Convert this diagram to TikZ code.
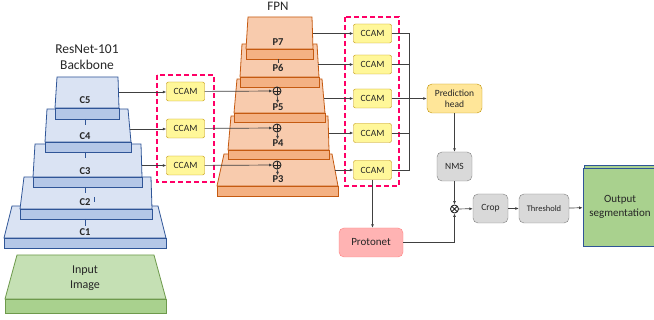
\documentclass[tikz,border=0pt]{standalone}
\usepackage{fontspec}
\setmainfont{Carlito}
\usetikzlibrary{arrows.meta,positioning}

\definecolor{bbfill}{HTML}{DAE3F3}
\definecolor{bbbar}{HTML}{B4C7E7}
\definecolor{bbline}{HTML}{2F5597}
\definecolor{fpnfill}{HTML}{F8CBAD}
\definecolor{fpnbar}{HTML}{F4B183}
\definecolor{fpnline}{HTML}{C55A11}
\definecolor{inpfill}{HTML}{C5E0B4}
\definecolor{inpbar}{HTML}{A9D18E}
\definecolor{inpline}{HTML}{6E9A4C}
\definecolor{ccamfill}{HTML}{FFF799}
\definecolor{ccamline}{HTML}{BF9000}
\definecolor{predfill}{HTML}{FFE699}
\definecolor{greyfill}{HTML}{D9D9D9}
\definecolor{greyline}{HTML}{7F7F7F}
\definecolor{protofill}{HTML}{FFB3B3}
\definecolor{protoline}{HTML}{FF8080}
\definecolor{dashpink}{HTML}{FF0066}

\begin{document}
\begin{tikzpicture}[x=1pt, y=-1pt, >={Latex[length=3.5pt,width=3pt]},
    bblvl/.style={draw=bbline, fill=bbfill, line width=0.8pt},
    bbbase/.style={draw=bbline, fill=bbbar, line width=0.8pt},
    fpnlvl/.style={draw=fpnline, fill=fpnfill, line width=0.8pt},
    fpnbase/.style={draw=fpnline, fill=fpnbar, line width=0.8pt},
    lvllabel/.style={font=\bfseries\fontsize{10.5}{12}\selectfont, text=black!85, inner sep=0pt},
    ccam/.style={draw=ccamline, fill=ccamfill, rounded corners=2pt, minimum width=38pt,
                 minimum height=19pt, inner sep=0pt, text=black!85, font=\fontsize{9.5}{10}\selectfont},
    greybox/.style={draw=greyline, fill=greyfill, rounded corners=5pt, minimum height=29pt,
                    inner sep=0pt, text=black!85, font=\fontsize{9.5}{10}\selectfont},
    plusop/.style={circle, draw=black!85, line width=0.9pt, minimum size=8pt, inner sep=0pt,
                   path picture={\draw[black!85, line width=0.9pt]
                       (path picture bounding box.north) -- (path picture bounding box.south)
                       (path picture bounding box.west) -- (path picture bounding box.east);}},
    timesop/.style={circle, draw=black!85, line width=0.9pt, minimum size=8pt, inner sep=0pt,
                   path picture={\draw[black!85, line width=0.9pt]
                       (path picture bounding box.north west) -- (path picture bounding box.south east)
                       (path picture bounding box.south west) -- (path picture bounding box.north east);}},
    conn/.style={draw=black!75, line width=0.7pt},
    groupbox/.style={draw=dashpink, line width=1.2pt, dash pattern=on 5pt off 3pt}]

    \useasboundingbox (0,0) rectangle (654,320);

    % titles
    \node[align=center, font=\fontsize{13.5}{16}\selectfont, text=black!85] (bbtitle) at (87,57) {ResNet-101\\Backbone};
    \node[font=\fontsize{13}{15}\selectfont, text=black!85] (fpntitle) at (278,6) {FPN};

    % backbone levels
    \draw[bblvl] (12,206) -- (158,206) -- (166,238) -- (4,238) -- cycle;
    \draw[bbbase] (4,238) rectangle (166,248);
    \draw[bblvl] (24,177) -- (151,177) -- (152,209) -- (20,209) -- cycle;
    \draw[bbbase] (20,209) rectangle (152,219);
    \draw[bblvl] (35,144) -- (141,144) -- (142,177) -- (33,177) -- cycle;
    \draw[bbbase] (33,177) rectangle (142,187);
    \draw[bblvl] (47,109) -- (128,109) -- (131,142) -- (45,142) -- cycle;
    \draw[bbbase] (45,142) rectangle (131,152);
    \draw[bblvl] (57,77) -- (118,77) -- (119,108) -- (55,108) -- cycle;
    \draw[bbbase] (55,108) rectangle (119,119);
    \draw[bbline, line width=0.8pt] (85,119) -- (85,125) (85,152) -- (85,158)
        (85,187) -- (85,193) (85,219) -- (85,226) (94,197) -- (94,202);

    \node[lvllabel] (c1) at (85,232) {C1};
    \node[lvllabel] (c2) at (85,202) {C2};
    \node[lvllabel] (c3) at (85,171) {C3};
    \node[lvllabel] (c4) at (85,136) {C4};
    \node[lvllabel] (c5) at (85,100) {C5};

    \coordinate (c5e) at (118.5,92);
    \coordinate (c4e) at (129.5,129);
    \coordinate (c3e) at (141.5,165.5);

    % input image
    \draw[draw=inpline, fill=inpfill, line width=0.8pt] (17,255) -- (154,255) -- (166,299) -- (5,299) -- cycle;
    \draw[draw=inpline, fill=inpbar, line width=0.8pt] (5,299) rectangle (166,313);
    \node[align=center, font=\fontsize{12}{15}\selectfont, text=black!85] (inp) at (85,278.5) {Input\\Image};

    % FPN levels
    \draw[fpnlvl] (224,154) -- (332,154) -- (338,186) -- (217,186) -- cycle;
    \draw[fpnbase] (217,186) rectangle (338,196);
    \draw[fpnlvl] (231,116) -- (328,116) -- (329,150) -- (228,150) -- cycle;
    \draw[fpnbase] (228,150) rectangle (329,159);
    \draw[fpnlvl] (237,79) -- (322,79) -- (325,113) -- (234,113) -- cycle;
    \draw[fpnbase] (234,113) rectangle (325,122);
    \draw[fpnlvl] (242,44) -- (317,44) -- (319,77) -- (240,77) -- cycle;
    \draw[fpnbase] (240,77) rectangle (319,87);
    \draw[fpnlvl] (248,17) -- (312,17) -- (313,49) -- (246,49) -- cycle;
    \draw[fpnbase] (246,49) rectangle (313,59);
    \draw[black!75, line width=0.7pt] (278,59) -- (278,63);

    \node[lvllabel] (p3) at (278,179) {P3};
    \node[lvllabel] (p4) at (278,143) {P4};
    \node[lvllabel] (p5) at (278,107) {P5};
    \node[lvllabel] (p6) at (278,68) {P6};
    \node[lvllabel] (p7) at (278,42) {P7};

    \coordinate (p7e) at (313,33.5);
    \coordinate (p6e) at (318,64.5);
    \coordinate (p5e) at (324,98.5);
    \coordinate (p4e) at (328.5,133);
    \coordinate (p3e) at (335,170);

    \node[plusop] (sum5) at (277,91) {};
    \node[plusop] (sum4) at (277,128) {};
    \node[plusop] (sum3) at (277,165) {};

    % left CCAM group
    \draw[groupbox] (157,75) rectangle (214,182);
    \node[ccam] (ccamL1) at (185.5,91.5) {CCAM};
    \node[ccam] (ccamL2) at (185.5,128.5) {CCAM};
    \node[ccam] (ccamL3) at (185.5,165.5) {CCAM};

    % right CCAM group
    \draw[groupbox] (345,17) rectangle (399,186);
    \node[ccam] (ccamR1) at (372.5,33.5) {CCAM};
    \node[ccam] (ccamR2) at (372.5,64.5) {CCAM};
    \node[ccam] (ccamR3) at (372.5,98.5) {CCAM};
    \node[ccam] (ccamR4) at (372.5,133) {CCAM};
    \node[ccam] (ccamR5) at (372.5,170) {CCAM};
    \coordinate (bus) at (409,98.5);

    % heads
    \node[draw=ccamline, fill=predfill, rounded corners=5pt, minimum width=55pt, minimum height=29pt,
          inner sep=0pt, align=center, text=black!85, font=\fontsize{9.5}{11.5}\selectfont]
          (pred) at (454.5,98.5) {Prediction\\head};
    \node[greybox, minimum width=35pt] (nms) at (454.5,166.5) {NMS};
    \node[timesop] (prod) at (454.5,209) {};
    \node[greybox, minimum width=35pt] (crop) at (490.5,208.5) {Crop};
    \node[greybox, minimum width=50pt, font=\fontsize{8.5}{10}\selectfont] (thr) at (544,208.5) {Threshold};
    \node[draw=protoline, fill=protofill, rounded corners=5pt, minimum width=64pt, minimum height=29pt,
          inner sep=0pt, text=black!85, font=\fontsize{11}{13}\selectfont] (proto) at (371,242.5) {Protonet};

    \draw[draw=bbline, fill=inpbar, line width=0.8pt] (584.5,165.5) rectangle (660,244);
    \node[draw=bbline, fill=inpbar, line width=0.8pt, minimum width=74pt, minimum height=78pt,
          inner sep=0pt, align=center, text=black!85, font=\fontsize{11}{14}\selectfont]
          (out) at (620,207) {Output\\segmentation};

    % connectors
    \draw[conn, ->] (c5e) -- (ccamL1.west |- c5e);
    \draw[conn, ->] (c4e) -- (ccamL2.west |- c4e);
    \draw[conn, ->] (c3e) -- (ccamL3.west |- c3e);
    \draw[conn, ->] (ccamL1) -- (sum5);
    \draw[conn, ->] (ccamL2) -- (sum4);
    \draw[conn, ->] (ccamL3) -- (sum3);
    \draw[conn, ->] (sum5) -- (p5);
    \draw[conn, ->] (sum4) -- (p4);
    \draw[conn, ->] (sum3) -- (p3);

    \draw[conn, ->] (p7e) -- (ccamR1);
    \draw[conn, ->] (p6e) -- (ccamR2);
    \draw[conn, ->] (p5e) -- (ccamR3);
    \draw[conn, ->] (p4e) -- (ccamR4);
    \draw[conn, ->] (p3e) -- (ccamR5);

    \draw[conn] (ccamR1.east) -| (bus);
    \draw[conn] (ccamR2.east) -| (bus);
    \draw[conn] (ccamR3.east) -- (bus);
    \draw[conn] (ccamR4.east) -| (bus);
    \draw[conn] (ccamR5.east) -| (bus);
    \draw[conn, ->, line width=1.4pt] (bus) -- (pred);

    \draw[conn, ->] (pred) -- (nms);
    \draw[conn, ->] (nms) -- (prod);
    \draw[conn, ->] (ccamR5.south) -- (ccamR5.south |- proto.north);
    \draw[conn, ->] (proto.east) -| (prod.south);
    \draw[conn, ->] (prod) -- (crop);
    \draw[conn, ->] (crop) -- (thr);
    \draw[conn, ->] (thr) -- (out);
\end{tikzpicture}
\end{document}
